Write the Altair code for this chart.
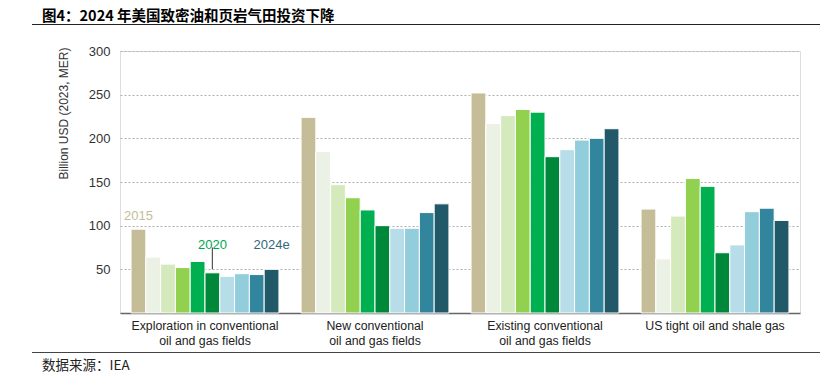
import altair as alt
import pandas as pd

categories = [
    "Exploration in conventional\noil and gas fields",
    "New conventional\noil and gas fields",
    "Existing conventional\noil and gas fields",
    "US tight oil and shale gas",
]
years = ["2015", "2016", "2017", "2018", "2019", "2020", "2021", "2022", "2023", "2024"]
exploration = [96, 64, 56, 52, 59, 46, 42, 45, 44, 50]
new_fields = [224, 185, 147, 132, 118, 100, 97, 97, 115, 125]
existing = [252, 217, 226, 233, 230, 179, 187, 198, 200, 211]
us_shale = [119, 62, 111, 154, 145, 69, 78, 116, 120, 106]
colors = ["#c4bd97", "#ebf1e4", "#d5eabc", "#92d050", "#00b050",
          "#00883a", "#b7dde8", "#92cddc", "#31859c", "#215968"]

ann_years = ["2015", "2020", "2024"]
ann_labels = ["2015", "2020", "2024e"]
ann_values = [110.5, 77.5, 77.5]
ann_colors = ["#c4bd97", "#00a651", "#31697a"]

TITLE = "图4：2024 年美国致密油和页岩气田投资下降"
SOURCE = "数据来源：IEA"
Y_TITLE = "Billion USD (2023, MER)"

rows = []
for cat, vals in zip(categories, [exploration, new_fields, existing, us_shale]):
    for y, v, c in zip(years, vals, colors):
        rows.append({"category": cat, "year": y, "value": v, "color": c})
df = pd.DataFrame(rows)

ann = pd.DataFrame({
    "category": [categories[0]] * 3,
    "year": ann_years,
    "label": ann_labels,
    "value": ann_values,
    "color": ann_colors,
})
leader = pd.DataFrame({"category": [categories[0]], "year": ["2020"], "y1": [75], "y2": [50]})

x_enc = alt.X("category:N", sort=categories,
              scale=alt.Scale(paddingInner=0.13, paddingOuter=0.065),
              axis=alt.Axis(title=None, labelExpr="split(datum.value, '\\n')",
                            labelAngle=0, labelFontSize=12.3, labelColor="#222",
                            labelFont="Liberation Sans", labelPadding=6,
                            labelLineHeight=15, ticks=False, domainColor="#666",
                            domainWidth=1.5, labelBaseline="top"))
xoff = alt.XOffset("year:N", sort=years, scale=alt.Scale(paddingInner=0, paddingOuter=0))

bars = alt.Chart(df).mark_bar(stroke="white", strokeWidth=1).encode(
    x=x_enc,
    xOffset=xoff,
    y=alt.Y("value:Q", scale=alt.Scale(domain=[0, 300], nice=False),
            axis=alt.Axis(values=[50, 100, 150, 200, 250, 300], title=Y_TITLE,
                          titleFont="Liberation Sans", titleFontSize=12,
                          titleFontWeight="normal", titleColor="#333",
                          titleX=-57, titleY=62, titleAngle=-90,
                          titleAlign="center", titleBaseline="middle",
                          labelFont="Liberation Sans", labelFontSize=13,
                          labelColor="#333", labelPadding=10, ticks=False,
                          domain=False, grid=True, gridColor="#b0b0b0",
                          gridDash=[2, 2], gridWidth=1)),
    color=alt.Color("color:N", scale=None),
)

labels = alt.Chart(ann).mark_text(font="Liberation Sans", fontSize=13,
                                  baseline="middle", align="center").encode(
    x=alt.X("category:N", sort=categories),
    xOffset=alt.XOffset("year:N", sort=years),
    y=alt.Y("value:Q"),
    text="label:N",
    color=alt.Color("color:N", scale=None),
)

lead = alt.Chart(leader).mark_rule(color="#555", strokeWidth=1.2).encode(
    x=alt.X("category:N", sort=categories),
    xOffset=alt.XOffset("year:N", sort=years),
    y=alt.Y("y1:Q"),
    y2="y2:Q",
)

title = alt.Chart(pd.DataFrame({"t": [TITLE]})).mark_text(
    font="Noto Sans CJK SC", fontWeight="bold", fontSize=14.5, align="left",
    baseline="middle", color="#000").encode(
    x=alt.value(-78), y=alt.value(-34.5), text="t:N")

source = alt.Chart(pd.DataFrame({"t": [SOURCE]})).mark_text(
    font="Noto Sans CJK SC", fontSize=13.5, align="left",
    baseline="middle", color="#222").encode(
    x=alt.value(-78), y=alt.value(315), text="t:N")

top_line = alt.Chart(pd.DataFrame({"b": [1]})).mark_rule(color="#222", strokeWidth=1.2).encode(
    x=alt.value(-88), x2=alt.value(706), y=alt.value(-26.5))
bottom_line = alt.Chart(pd.DataFrame({"c": [2]})).mark_rule(color="#444", strokeWidth=1.2).encode(
    x=alt.value(-88), x2=alt.value(706), y=alt.value(301.5))

chart = alt.layer(bars, lead, labels, title, source, top_line, bottom_line).properties(
    width=680, height=262,
    autosize=alt.AutoSizeParams(type="none"),
    padding={"left": 112, "top": 43, "right": 20, "bottom": 60},
).configure_view(stroke=None).configure(background="white")

chart.save("out.html", embed_options={"renderer": "svg", "actions": False})
